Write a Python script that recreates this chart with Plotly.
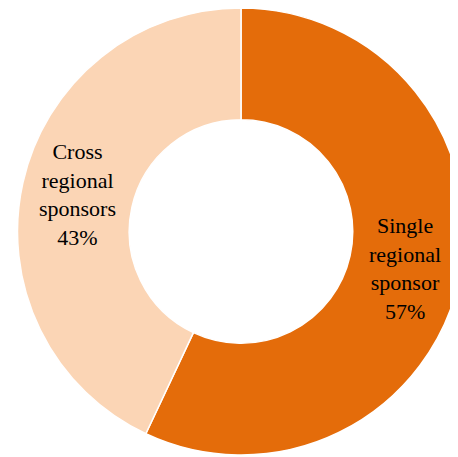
import math
import plotly.graph_objects as go

labels = ["Single<br>regional<br>sponsor", "Cross<br>regional<br>sponsors"]
values = [57, 43]
colors = ["#E46C0A", "#FBD5B5"]

W, H = 458, 457
cx, cy, r = 233, 223.5, 223.5
HOLE = 0.5
FONT = "Liberation Serif"

fig = go.Figure(go.Pie(
    labels=labels,
    values=values,
    sort=False,
    direction="clockwise",
    rotation=0,
    hole=HOLE,
    marker=dict(colors=colors, line=dict(color="white", width=1.5)),
    textinfo="none",
    hoverinfo="label+percent",
    domain=dict(x=[(cx - r) / W, min(1, (cx + r) / W)], y=[max(0, (H - cy - r) / H), min(1, (H - cy + r) / H)]),
))

# labels placed at the middle of each ring segment, derived from the values
total = sum(values)
rm = r * (1 + HOLE) / 2
cum = 0
for lab, v in zip(labels, values):
    theta = 2 * math.pi * (cum + v / 2) / total
    cum += v
    px = cx + rm * math.sin(theta)
    py = cy - rm * math.cos(theta)
    fig.add_annotation(
        x=px / W, y=1 - py / H, xref="paper", yref="paper",
        xanchor="center", yanchor="middle", showarrow=False,
        text=f"{lab}<br>{round(100 * v / total)}%",
        font=dict(family=FONT, size=22, color="black"),
    )

fig.update_layout(
    width=W, height=H,
    margin=dict(l=0, r=0, t=0, b=0),
    showlegend=False,
    paper_bgcolor="white",
)
fig.write_html("out.html")
